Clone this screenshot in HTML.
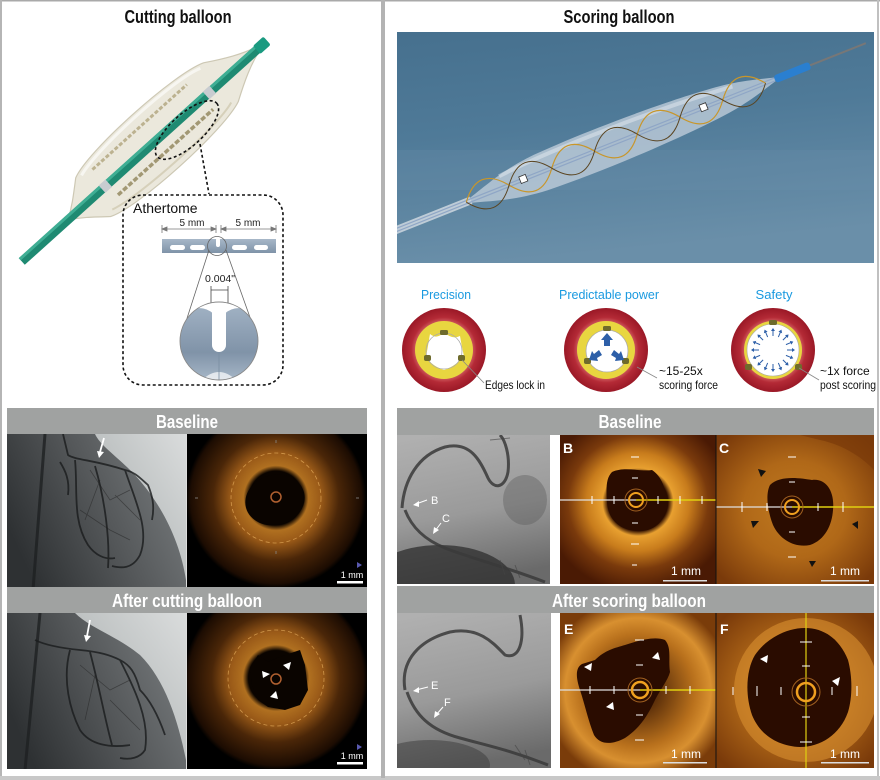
<!DOCTYPE html>
<html><head><meta charset="utf-8"><style>
html,body{margin:0;padding:0;background:#fff;}
svg{display:block;}
text{font-family:"Liberation Sans Narrow","Liberation Sans",sans-serif;}
</style></head><body>
<svg width="880" height="780" viewBox="0 0 880 780" xmlns="http://www.w3.org/2000/svg">
<defs>
  <linearGradient id="photo" x1="0" y1="0" x2="0.2" y2="1">
    <stop offset="0" stop-color="#46708e"/>
    <stop offset="0.45" stop-color="#4f7a98"/>
    <stop offset="1" stop-color="#6a8fa9"/>
  </linearGradient>
  <linearGradient id="angL" x1="0" y1="0.6" x2="1" y2="0.2">
    <stop offset="0" stop-color="#2e3133"/>
    <stop offset="0.5" stop-color="#55585a"/>
    <stop offset="1" stop-color="#7a7e80"/>
  </linearGradient>
  <linearGradient id="lung" x1="0" y1="1" x2="1" y2="0">
    <stop offset="0" stop-color="#9ea3a4"/>
    <stop offset="0.5" stop-color="#c9cdcd"/>
    <stop offset="1" stop-color="#e4e6e6"/>
  </linearGradient>
  <linearGradient id="angR" x1="0.2" y1="0" x2="0.4" y2="1">
    <stop offset="0" stop-color="#b0b0b0"/>
    <stop offset="0.55" stop-color="#9a9a9a"/>
    <stop offset="1" stop-color="#6a6a6a"/>
  </linearGradient>
  <radialGradient id="octL" cx="0.5" cy="0.5" r="0.5">
    <stop offset="0" stop-color="#080300"/>
    <stop offset="0.3" stop-color="#0a0400"/>
    <stop offset="0.36" stop-color="#b07020"/>
    <stop offset="0.5" stop-color="#9a5a18"/>
    <stop offset="0.7" stop-color="#4a2608"/>
    <stop offset="0.95" stop-color="#1c0c02"/>
    <stop offset="1" stop-color="#000"/>
  </radialGradient>
  <radialGradient id="octB" cx="0.5" cy="0.45" r="0.6">
    <stop offset="0" stop-color="#2a0c00"/>
    <stop offset="0.32" stop-color="#2a0c00"/>
    <stop offset="0.38" stop-color="#e8a030"/>
    <stop offset="0.55" stop-color="#c87c1c"/>
    <stop offset="0.75" stop-color="#7a3a0c"/>
    <stop offset="1" stop-color="#4a1a04"/>
  </radialGradient>
  <radialGradient id="octC" cx="0.5" cy="0.5" r="0.65">
    <stop offset="0" stop-color="#c07a20"/>
    <stop offset="0.5" stop-color="#b06818"/>
    <stop offset="1" stop-color="#7a3a0a"/>
  </radialGradient>
  <radialGradient id="octF" cx="0.5" cy="0.5" r="0.6">
    <stop offset="0" stop-color="#2a0c00"/>
    <stop offset="0.6" stop-color="#b8701c"/>
    <stop offset="0.78" stop-color="#d89030"/>
    <stop offset="1" stop-color="#7a3c0a"/>
  </radialGradient>
  <radialGradient id="red" cx="0.5" cy="0.5" r="0.5">
    <stop offset="0.6" stop-color="#e07a78"/>
    <stop offset="0.78" stop-color="#b42a36"/>
    <stop offset="1" stop-color="#9a1826"/>
  </radialGradient>
  <linearGradient id="blade" x1="0" y1="0" x2="0" y2="1">
    <stop offset="0" stop-color="#a7b7c8"/>
    <stop offset="1" stop-color="#7f93a8"/>
  </linearGradient>
  <linearGradient id="lobe" x1="0" y1="0" x2="0" y2="1">
    <stop offset="0" stop-color="#9fb0c2"/>
    <stop offset="0.6" stop-color="#8093a8"/>
    <stop offset="1" stop-color="#a9b9c9"/>
  </linearGradient>
  <clipPath id="mag"><circle cx="219" cy="341" r="39"/></clipPath>
  <clipPath id="cOL1"><rect x="187" y="434" width="180" height="153"/></clipPath>
  <clipPath id="cOL2"><rect x="187" y="613" width="180" height="156"/></clipPath>
  <clipPath id="cB"><rect x="560" y="435" width="156" height="149"/></clipPath>
  <clipPath id="cC"><rect x="716" y="435" width="158" height="149"/></clipPath>
  <clipPath id="cE"><rect x="560" y="613" width="156" height="155"/></clipPath>
  <clipPath id="cF"><rect x="716" y="613" width="158" height="155"/></clipPath>
  <clipPath id="cAL1"><rect x="7" y="434" width="179" height="153"/></clipPath>
  <clipPath id="cAL2"><rect x="7" y="613" width="179" height="156"/></clipPath>
  <clipPath id="cAR1"><rect x="397" y="435" width="153" height="149"/></clipPath>
  <clipPath id="cAR2"><rect x="397" y="613" width="154" height="155"/></clipPath>
  <clipPath id="cPh"><rect x="397" y="32" width="477" height="231"/></clipPath>
</defs>

<!-- frame -->
<rect x="0" y="0" width="880" height="1.5" fill="#a9a9a9"/>
<rect x="0" y="0" width="2" height="780" fill="#b5b5b5"/>
<rect x="877" y="0" width="2" height="780" fill="#c0c0c0"/>
<rect x="0" y="776" width="880" height="4" fill="#c8c8c8"/>
<rect x="381" y="0" width="4" height="778" fill="#b3b3b3"/>

<!-- ===== LEFT TOP ===== -->
<text x="178" y="23" font-size="18" font-weight="bold" text-anchor="middle" textLength="107" lengthAdjust="spacingAndGlyphs" fill="#111">Cutting balloon</text>

<g transform="translate(160,137) rotate(-42)">
  <path d="M -124 0 C -112 -7, -104 -14, -90 -26 C -64 -38, 52 -38, 82 -26 C 102 -14, 116 -7, 130 -3 L 130 3 C 116 7, 102 14, 82 26 C 52 38, -64 38, -90 26 C -104 14, -112 7, -124 0 Z" fill="#ebe8dc" stroke="#cdc8b4" stroke-width="1.2"/>
  <path d="M -84 -24 C -54 -34, 50 -34, 76 -24" fill="none" stroke="#fff" stroke-width="3" opacity="0.6"/>
  <path d="M -84 22 C -54 31, 50 31, 76 22" fill="none" stroke="#d6d0ba" stroke-width="2"/>
  <line x1="-72" y1="-21" x2="55" y2="-21" stroke="#bcb290" stroke-width="3" stroke-dasharray="4 2"/>
  <line x1="-70" y1="15" x2="58" y2="15" stroke="#a29874" stroke-width="3.5" stroke-dasharray="5 2"/>
  <rect x="-186" y="-4.5" width="318" height="9" fill="#1f8a72"/>
  <rect x="-186" y="-4.5" width="318" height="3" fill="#3fae94"/>
  <rect x="130" y="-5.5" width="14" height="11" rx="2" fill="#1a9a80"/>
  <rect x="-78" y="-5" width="9" height="10" fill="#c8ccd0"/>
  <rect x="62" y="-5" width="9" height="10" fill="#c8ccd0"/>
</g>
<ellipse cx="187" cy="130" rx="40" ry="16" transform="rotate(-42 187 130)" fill="none" stroke="#111" stroke-width="1.6" stroke-dasharray="3 2.5"/>
<line x1="200" y1="144" x2="209" y2="194" stroke="#111" stroke-width="1.6" stroke-dasharray="3 2.5"/>
<rect x="123" y="195" width="160" height="190" rx="20" fill="none" stroke="#111" stroke-width="1.6" stroke-dasharray="3 2.5"/>
<text x="133" y="213" font-size="14" fill="#111" font-family="Liberation Sans, sans-serif">Athertome</text>
<g stroke="#777" stroke-width="0.8" fill="#777">
  <line x1="162" y1="229" x2="216" y2="229"/><line x1="162" y1="225" x2="162" y2="233"/><line x1="216" y1="225" x2="216" y2="233"/>
  <line x1="221" y1="229" x2="276" y2="229"/><line x1="221" y1="225" x2="221" y2="233"/><line x1="276" y1="225" x2="276" y2="233"/>
  <polygon points="162,229 167,227 167,231"/><polygon points="216,229 211,227 211,231"/>
  <polygon points="221,229 226,227 226,231"/><polygon points="276,229 271,227 271,231"/>
</g>
<text x="192" y="226" font-size="10" text-anchor="middle" fill="#222" font-family="Liberation Sans, sans-serif">5 mm</text>
<text x="248" y="226" font-size="10" text-anchor="middle" fill="#222" font-family="Liberation Sans, sans-serif">5 mm</text>
<rect x="162" y="239" width="114" height="14" fill="url(#blade)"/>
<g fill="#fff">
  <rect x="170" y="245" width="15" height="5" rx="2.5"/><rect x="190" y="245" width="15" height="5" rx="2.5"/>
  <rect x="232" y="245" width="15" height="5" rx="2.5"/><rect x="254" y="245" width="14" height="5" rx="2.5"/>
  <rect x="216" y="238" width="4" height="9" rx="2"/>
</g>
<circle cx="217" cy="246" r="9.5" fill="none" stroke="#666" stroke-width="0.8"/>
<line x1="209" y1="250" x2="181" y2="337" stroke="#666" stroke-width="0.8"/>
<line x1="226" y1="250" x2="257" y2="337" stroke="#666" stroke-width="0.8"/>
<text x="220" y="282" font-size="10.5" text-anchor="middle" fill="#222" font-family="Liberation Sans, sans-serif">0.004"</text>
<g stroke="#444" stroke-width="0.8"><line x1="211" y1="286" x2="211" y2="303"/><line x1="228" y1="286" x2="228" y2="303"/><line x1="211" y1="290" x2="228" y2="290"/></g>
<circle cx="219" cy="341" r="39" fill="#fff"/>
<g clip-path="url(#mag)">
  <path d="M 180 332 A 19 19 0 0 1 219 324 A 19 19 0 0 1 258 332 L 258 382 L 180 382 Z" fill="url(#lobe)"/>
  <path d="M 200 382 Q 219 362 238 382 Z" fill="#fff" opacity="0.7"/>
  <rect x="212" y="300" width="14" height="52" rx="7" fill="#fff"/>
  <line x1="219" y1="352" x2="219" y2="380" stroke="#7a8ea2" stroke-width="0.8"/>
</g>
<circle cx="219" cy="341" r="39" fill="none" stroke="#888" stroke-width="0.9"/>

<!-- ===== LEFT BOTTOM ===== -->
<rect x="7" y="408" width="360" height="26" fill="#a0a2a1"/>
<text x="187" y="428" font-size="18" font-weight="bold" text-anchor="middle" textLength="62" lengthAdjust="spacingAndGlyphs" fill="#fff">Baseline</text>
<rect x="7" y="587" width="360" height="26" fill="#a0a2a1"/>
<text x="187" y="607" font-size="18" font-weight="bold" text-anchor="middle" textLength="150" lengthAdjust="spacingAndGlyphs" fill="#fff">After cutting balloon</text>

<!-- angio left top -->
<g clip-path="url(#cAL1)">
  <rect x="7" y="434" width="179" height="153" fill="url(#angL)"/>
  <path d="M 95 434 L 186 434 L 186 580 C 180 540, 160 500, 130 470 C 115 455, 100 445, 95 434 Z" fill="url(#lung)" opacity="0.9"/>
  <path d="M 45 434 L 33 590" stroke="#1e2022" stroke-width="3" fill="none" opacity="0.8"/>
  <g fill="none" stroke="#1a1c1d" stroke-width="1.8" opacity="0.8">
    <path d="M 63 434 L 68 455 C 75 460, 95 460, 125 470 C 135 472, 140 478, 148 485 C 152 495, 155 505, 152 520"/>
    <path d="M 75 460 C 78 490, 72 520, 88 545 C 95 555, 105 560, 115 558"/>
    <path d="M 95 466 C 105 500, 110 540, 108 568"/>
    <path d="M 125 470 C 135 500, 150 530, 140 555 C 132 570, 120 568, 112 566"/>
    <path d="M 60 462 C 65 470, 70 480, 68 495"/>
  </g>
  <g fill="none" stroke="#222" stroke-width="0.8" opacity="0.5">
    <path d="M 90 470 L 110 500 L 130 490"/><path d="M 100 480 L 85 520"/><path d="M 115 495 L 140 520"/>
    <path d="M 80 510 L 110 530 L 130 540"/>
  </g>
  <line x1="104" y1="438" x2="100" y2="452" stroke="#fff" stroke-width="1.8"/>
  <polygon points="97,451 104,452 99,458" fill="#fff"/>
</g>
<!-- OCT left top -->
<g clip-path="url(#cOL1)">
  <rect x="187" y="434" width="180" height="153" fill="#000"/>
  <circle cx="276" cy="498" r="90" fill="url(#octL)"/>
  <ellipse cx="275" cy="500" rx="30" ry="25" fill="#0a0400" transform="rotate(-15 275 500)"/>
  <circle cx="276" cy="498" r="45" fill="none" stroke="#e8b060" stroke-width="0.8" stroke-dasharray="4 3" opacity="0.7"/>
  <circle cx="276" cy="497" r="5" fill="none" stroke="#b06030" stroke-width="1.5"/>
  <g stroke="#888" stroke-width="0.8"><line x1="276" y1="440" x2="276" y2="443"/><line x1="276" y1="551" x2="276" y2="554"/><line x1="195" y1="498" x2="198" y2="498"/><line x1="356" y1="498" x2="359" y2="498"/></g>
  <polygon points="357,562 362,565 357,568" fill="#5a5ab0"/>
  <text x="352" y="578" font-size="9" text-anchor="middle" fill="#fff" font-family="Liberation Sans, sans-serif">1 mm</text>
  <rect x="337" y="581" width="26" height="2.5" fill="#fff"/>
</g>
<!-- angio left bottom -->
<g clip-path="url(#cAL2)">
  <rect x="7" y="613" width="179" height="156" fill="url(#angL)"/>
  <path d="M 75 613 L 186 613 L 186 760 C 178 720, 165 680, 140 655 C 115 635, 90 628, 75 613 Z" fill="url(#lung)" opacity="0.9"/>
  <path d="M 40 613 L 25 770" stroke="#1e2022" stroke-width="3" fill="none" opacity="0.8"/>
  <g fill="none" stroke="#1a1c1d" stroke-width="1.8" opacity="0.8">
    <path d="M 35 640 C 45 645, 60 648, 80 650 C 100 652, 110 655, 120 660 C 130 665, 135 672, 140 690 C 150 700, 158 715, 165 735"/>
    <path d="M 70 650 C 62 680, 70 710, 80 730 C 90 745, 110 748, 130 745"/>
    <path d="M 90 652 C 100 690, 105 720, 112 745"/>
    <path d="M 120 660 C 135 690, 150 720, 145 750 C 140 758, 130 760, 120 758"/>
  </g>
  <g fill="none" stroke="#222" stroke-width="0.8" opacity="0.5">
    <path d="M 80 665 L 110 690 L 130 680"/><path d="M 95 675 L 85 720"/><path d="M 110 700 L 140 730"/>
  </g>
  <line x1="90" y1="620" x2="87" y2="636" stroke="#fff" stroke-width="1.8"/>
  <polygon points="84,635 91,636 86,642" fill="#fff"/>
</g>
<!-- OCT left bottom -->
<g clip-path="url(#cOL2)">
  <rect x="187" y="613" width="180" height="156" fill="#000"/>
  <circle cx="276" cy="678" r="92" fill="url(#octL)"/>
  <path d="M 258 655 L 268 662 L 285 655 L 300 650 L 305 665 L 308 690 L 300 705 L 285 710 L 268 707 L 258 700 L 252 685 L 250 668 Z" fill="#0a0400"/>
  <circle cx="276" cy="678" r="48" fill="none" stroke="#e8b060" stroke-width="0.8" stroke-dasharray="4 3" opacity="0.7"/>
  <circle cx="276" cy="679" r="5" fill="none" stroke="#b06030" stroke-width="1.5"/>
  <polygon points="283,665 291,662 289,670" fill="#fff"/>
  <polygon points="262,671 270,674 263,678" fill="#fff"/>
  <polygon points="270,697 276,691 278,699" fill="#fff"/>
  <polygon points="357,744 362,747 357,750" fill="#5a5ab0"/>
  <text x="352" y="759" font-size="9" text-anchor="middle" fill="#fff" font-family="Liberation Sans, sans-serif">1 mm</text>
  <rect x="337" y="762" width="26" height="2.5" fill="#fff"/>
</g>
<rect x="186" y="434" width="1" height="153" fill="#ddd"/>
<rect x="186" y="613" width="1" height="156" fill="#ddd"/>

<!-- ===== RIGHT TOP ===== -->
<text x="619" y="23" font-size="18" font-weight="bold" text-anchor="middle" textLength="111" lengthAdjust="spacingAndGlyphs" fill="#111">Scoring balloon</text>
<g clip-path="url(#cPh)">
  <rect x="397" y="32" width="477" height="231" fill="url(#photo)"/>
  <rect x="397" y="150" width="477" height="40" fill="#6a90aa" opacity="0.25"/>
  <g transform="translate(615,143) rotate(-21.7)">
    <rect x="-250" y="-4" width="95" height="8" fill="#cfd8e0" opacity="0.85"/>
    <path d="M -165 0 C -140 -6, -120 -16, -80 -19 C -20 -22, 60 -20, 110 -15 C 140 -12, 160 -5, 172 -2 L 172 2 C 160 5, 140 12, 110 15 C 60 20, -20 22, -80 19 C -120 16, -140 6, -165 0 Z" fill="#c6d2dd" opacity="0.75"/>
    <path d="M -120 -12 C -60 -18, 60 -16, 130 -9" fill="none" stroke="#e4eaf0" stroke-width="4" opacity="0.5"/>
    <line x1="-250" y1="-1.5" x2="172" y2="-1.5" stroke="#8fa6c6" stroke-width="1.2"/>
    <line x1="-250" y1="1.5" x2="172" y2="1.5" stroke="#8fa6c6" stroke-width="1.2"/>
    <path d="M -160 0 q 23 -30 46 0 t 46 0 t 46 0 t 46 0 t 46 0 t 46 0 t 46 0" fill="none" stroke="#c8962a" stroke-width="1.2"/>
    <path d="M -160 0 q 23 30 46 0 t 46 0 t 46 0 t 46 0 t 46 0 t 46 0 t 46 0" fill="none" stroke="#5a4420" stroke-width="1"/>
    <rect x="-102" y="-4" width="7" height="7" fill="#fff" stroke="#333" stroke-width="0.8"/>
    <rect x="92" y="-4" width="7" height="7" fill="#fff" stroke="#333" stroke-width="0.8"/>
    <rect x="172" y="-4" width="38" height="8" rx="3" fill="#2a7fd0"/>
    <line x1="210" y1="0" x2="270" y2="0" stroke="#777" stroke-width="2"/>
  </g>
</g>

<!-- circles row -->
<text x="446" y="299" font-size="12.5" text-anchor="middle" fill="#1a9ae0" font-family="Liberation Sans, sans-serif" textLength="50" lengthAdjust="spacingAndGlyphs">Precision</text>
<text x="609" y="299" font-size="12.5" text-anchor="middle" fill="#1a9ae0" font-family="Liberation Sans, sans-serif" textLength="100" lengthAdjust="spacingAndGlyphs">Predictable power</text>
<text x="774" y="299" font-size="12.5" text-anchor="middle" fill="#1a9ae0" font-family="Liberation Sans, sans-serif" textLength="37" lengthAdjust="spacingAndGlyphs">Safety</text>

<!-- Precision -->
<circle cx="444" cy="350" r="42" fill="url(#red)"/>
<circle cx="444" cy="350" r="29" fill="#e8d640"/>
<path d="M 430 334 Q 437 340 444 332 Q 452 340 460 336 Q 462 348 464 356 Q 456 366 444 370 Q 432 366 426 357 Q 428 346 430 334 Z" fill="#fff"/>
<circle cx="444" cy="351" r="18" fill="none" stroke="#aaa" stroke-width="0.8"/>
<g fill="#6e6b2c"><rect x="440" y="330" width="8" height="5" rx="1.5"/><rect x="424" y="355" width="7" height="6" rx="2"/><rect x="458" y="355" width="7" height="6" rx="2"/></g>
<line x1="462" y1="360" x2="484" y2="383" stroke="#888" stroke-width="0.8"/>
<text x="485" y="389" font-size="12" fill="#111" textLength="60" lengthAdjust="spacingAndGlyphs">Edges lock in</text>

<!-- Predictable power -->
<circle cx="606" cy="350" r="42" fill="url(#red)"/>
<circle cx="606" cy="350" r="29" fill="#e8d640"/>
<circle cx="607" cy="351" r="21" fill="#fff" stroke="#aaa" stroke-width="0.8"/>
<g fill="#6e6b2c"><rect x="603" y="326" width="8" height="5" rx="1.5"/><rect x="584" y="358" width="7" height="6" rx="2"/><rect x="622" y="358" width="7" height="6" rx="2"/></g>
<g fill="#2d5fa8">
  <polygon points="607,333 613,340 610,340 610,346 604,346 604,340 601,340"/>
  <polygon points="589,360 592,351 594,354 599,350 602,355 597,358 598,361"/>
  <polygon points="624,360 621,351 619,354 614,350 611,355 616,358 615,361"/>
</g>
<line x1="637" y1="367" x2="657" y2="378" stroke="#888" stroke-width="0.8"/>
<text x="659" y="375" font-size="12" fill="#111">~15-25x</text>
<text x="659" y="389" font-size="12" fill="#111" textLength="59" lengthAdjust="spacingAndGlyphs">scoring force</text>

<!-- Safety -->
<circle cx="773" cy="350" r="42" fill="url(#red)"/>
<circle cx="773" cy="350" r="29" fill="#e8d640"/>
<circle cx="773" cy="350" r="26" fill="#fff" stroke="#aaa" stroke-width="0.6"/>
<g fill="#6e6b2c"><rect x="769" y="320" width="8" height="5" rx="1.5"/><rect x="745" y="364" width="7" height="6" rx="2"/><rect x="795" y="364" width="7" height="6" rx="2"/></g>
<g stroke="#2d5fa8" stroke-width="1" fill="#2d5fa8">
  <g><line x1="773" y1="336" x2="773" y2="330"/><polygon points="771,331 775,331 773,328" stroke="none"/></g>
  <g transform="rotate(22.5 773 350)"><line x1="773" y1="336" x2="773" y2="330"/><polygon points="771,331 775,331 773,328" stroke="none"/></g>
  <g transform="rotate(45 773 350)"><line x1="773" y1="336" x2="773" y2="330"/><polygon points="771,331 775,331 773,328" stroke="none"/></g>
  <g transform="rotate(67.5 773 350)"><line x1="773" y1="336" x2="773" y2="330"/><polygon points="771,331 775,331 773,328" stroke="none"/></g>
  <g transform="rotate(90 773 350)"><line x1="773" y1="336" x2="773" y2="330"/><polygon points="771,331 775,331 773,328" stroke="none"/></g>
  <g transform="rotate(112.5 773 350)"><line x1="773" y1="336" x2="773" y2="330"/><polygon points="771,331 775,331 773,328" stroke="none"/></g>
  <g transform="rotate(135 773 350)"><line x1="773" y1="336" x2="773" y2="330"/><polygon points="771,331 775,331 773,328" stroke="none"/></g>
  <g transform="rotate(157.5 773 350)"><line x1="773" y1="336" x2="773" y2="330"/><polygon points="771,331 775,331 773,328" stroke="none"/></g>
  <g transform="rotate(180 773 350)"><line x1="773" y1="336" x2="773" y2="330"/><polygon points="771,331 775,331 773,328" stroke="none"/></g>
  <g transform="rotate(202.5 773 350)"><line x1="773" y1="336" x2="773" y2="330"/><polygon points="771,331 775,331 773,328" stroke="none"/></g>
  <g transform="rotate(225 773 350)"><line x1="773" y1="336" x2="773" y2="330"/><polygon points="771,331 775,331 773,328" stroke="none"/></g>
  <g transform="rotate(247.5 773 350)"><line x1="773" y1="336" x2="773" y2="330"/><polygon points="771,331 775,331 773,328" stroke="none"/></g>
  <g transform="rotate(270 773 350)"><line x1="773" y1="336" x2="773" y2="330"/><polygon points="771,331 775,331 773,328" stroke="none"/></g>
  <g transform="rotate(292.5 773 350)"><line x1="773" y1="336" x2="773" y2="330"/><polygon points="771,331 775,331 773,328" stroke="none"/></g>
  <g transform="rotate(315 773 350)"><line x1="773" y1="336" x2="773" y2="330"/><polygon points="771,331 775,331 773,328" stroke="none"/></g>
  <g transform="rotate(337.5 773 350)"><line x1="773" y1="336" x2="773" y2="330"/><polygon points="771,331 775,331 773,328" stroke="none"/></g>
</g>
<line x1="799" y1="368" x2="819" y2="380" stroke="#888" stroke-width="0.8"/>
<text x="820" y="375" font-size="12" fill="#111">~1x force</text>
<text x="820" y="389" font-size="12" fill="#111" textLength="56" lengthAdjust="spacingAndGlyphs">post scoring</text>

<!-- ===== RIGHT BOTTOM ===== -->
<rect x="397" y="408" width="477" height="27" fill="#a0a2a1"/>
<text x="630" y="428" font-size="18" font-weight="bold" text-anchor="middle" textLength="63" lengthAdjust="spacingAndGlyphs" fill="#fff">Baseline</text>
<rect x="397" y="586" width="477" height="27" fill="#a0a2a1"/>
<text x="629" y="607" font-size="18" font-weight="bold" text-anchor="middle" textLength="154" lengthAdjust="spacingAndGlyphs" fill="#fff">After scoring balloon</text>

<!-- angio right top -->
<g clip-path="url(#cAR1)">
  <rect x="397" y="435" width="153" height="149" fill="url(#angR)"/>
  <ellipse cx="440" cy="585" rx="75" ry="40" fill="#2e2e2e" opacity="0.75"/>
  <ellipse cx="525" cy="500" rx="22" ry="25" fill="#5a5a5a" opacity="0.4"/>
  <g fill="none" stroke="#3a3a3a" stroke-width="3" opacity="0.85">
    <path d="M 402 508 C 404 480, 418 455, 445 447 C 470 441, 480 460, 488 478 C 494 490, 505 488, 508 472 C 510 455, 505 440, 500 435"/>
    <path d="M 405 510 C 412 528, 425 540, 445 548 C 470 558, 500 565, 545 582"/>
  </g>
  <g fill="none" stroke="#444" stroke-width="1" opacity="0.6"><path d="M 500 560 L 505 575"/><path d="M 515 565 L 520 578"/><path d="M 490 440 L 510 438"/></g>
  <g fill="#fff" stroke="#fff" stroke-width="1">
    <line x1="427" y1="500" x2="416" y2="504"/><polygon points="413,505 419,501 419,507" stroke="none"/>
    <line x1="441" y1="523" x2="435" y2="531"/><polygon points="433,534 434,527 439,530" stroke="none"/>
  </g>
  <text x="431" y="504" font-size="11" fill="#fff" font-family="Liberation Sans, sans-serif">B</text>
  <text x="442" y="522" font-size="11" fill="#fff" font-family="Liberation Sans, sans-serif">C</text>
</g>
<!-- angio right bottom -->
<g clip-path="url(#cAR2)">
  <rect x="397" y="613" width="154" height="155" fill="url(#angR)"/>
  <ellipse cx="430" cy="765" rx="60" ry="25" fill="#3a3a3a" opacity="0.5"/>
  <g fill="none" stroke="#3a3a3a" stroke-width="3" opacity="0.85">
    <path d="M 405 690 C 400 660, 420 640, 450 632 C 480 626, 495 645, 505 655 C 520 660, 525 640, 520 615"/>
    <path d="M 407 692 C 415 715, 430 730, 460 738 C 485 745, 510 750, 548 765"/>
  </g>
  <g fill="none" stroke="#444" stroke-width="1" opacity="0.6"><path d="M 515 745 L 525 760"/><path d="M 525 750 L 530 765"/></g>
  <g fill="#fff" stroke="#fff" stroke-width="1">
    <line x1="428" y1="687" x2="416" y2="690"/><polygon points="413,691 419,687 419,693" stroke="none"/>
    <line x1="443" y1="707" x2="436" y2="715"/><polygon points="434,718 435,711 440,714" stroke="none"/>
  </g>
  <text x="431" y="689" font-size="11" fill="#fff" font-family="Liberation Sans, sans-serif">E</text>
  <text x="444" y="706" font-size="11" fill="#fff" font-family="Liberation Sans, sans-serif">F</text>
</g>

<!-- OCT B -->
<g clip-path="url(#cB)">
  <rect x="560" y="435" width="156" height="149" fill="url(#octB)"/>
  <path d="M 612 472 C 625 466, 640 472, 652 470 C 664 478, 668 495, 665 512 C 662 525, 650 532, 637 531 C 620 530, 608 520, 607 502 C 606 488, 606 478, 612 472 Z" fill="#2a0c00"/>
  <line x1="560" y1="500" x2="636" y2="500" stroke="#e0e0e0" stroke-width="1.2"/>
  <line x1="636" y1="500" x2="716" y2="500" stroke="#e0d010" stroke-width="1.5"/>
  <g stroke="#fff" stroke-width="1"><line x1="592" y1="496" x2="592" y2="504"/><line x1="614" y1="496" x2="614" y2="504"/><line x1="658" y1="496" x2="658" y2="504"/><line x1="680" y1="496" x2="680" y2="504"/><line x1="702" y1="496" x2="702" y2="504"/>
  <line x1="631" y1="457" x2="639" y2="457"/><line x1="632" y1="478" x2="638" y2="478"/><line x1="632" y1="523" x2="638" y2="523"/><line x1="631" y1="544" x2="639" y2="544"/><line x1="632" y1="565" x2="637" y2="565"/></g>
  <circle cx="636" cy="500" r="7" fill="none" stroke="#f0a020" stroke-width="2"/>
  <circle cx="636" cy="500" r="11" fill="none" stroke="#a06020" stroke-width="1"/>
  <text x="563" y="453" font-size="14" font-weight="bold" fill="#fff" font-family="Liberation Sans, sans-serif">B</text>
  <text x="686" y="575" font-size="12" fill="#fff" text-anchor="middle" font-family="Liberation Sans, sans-serif">1 mm</text>
  <rect x="663" y="580" width="44" height="1.5" fill="#ddd"/>
</g>
<!-- OCT C -->
<g clip-path="url(#cC)">
  <rect x="716" y="435" width="158" height="149" fill="url(#octC)"/>
  <path d="M 820 440 C 845 445, 865 460, 874 470 L 874 435 L 800 435 Z" fill="#7a3a0a" opacity="0.7"/>
  <path d="M 770 485 C 780 475, 800 478, 812 480 C 825 478, 835 490, 833 510 C 832 525, 825 540, 810 545 C 795 548, 780 540, 773 525 C 768 512, 765 495, 770 485 Z" fill="#2a0c00"/>
  <line x1="716" y1="507" x2="792" y2="507" stroke="#e0e0e0" stroke-width="1.2"/>
  <line x1="792" y1="507" x2="874" y2="507" stroke="#e0d010" stroke-width="1.5"/>
  <g stroke="#fff" stroke-width="1"><line x1="742" y1="502" x2="742" y2="512"/><line x1="767" y1="503" x2="767" y2="511"/><line x1="818" y1="503" x2="818" y2="511"/><line x1="843" y1="502" x2="843" y2="512"/>
  <line x1="788" y1="457" x2="796" y2="457"/><line x1="789" y1="482" x2="795" y2="482"/><line x1="789" y1="532" x2="795" y2="532"/><line x1="788" y1="557" x2="796" y2="557"/></g>
  <circle cx="792" cy="507" r="7" fill="none" stroke="#f0a020" stroke-width="2"/>
  <circle cx="792" cy="507" r="11" fill="none" stroke="#a06020" stroke-width="1"/>
  <g fill="#111"><polygon points="758,469 766,471 761,477"/><polygon points="751,521 759,521 753,528"/><polygon points="858,521 858,529 852,524"/><polygon points="809,561 816,561 812,567"/></g>
  <text x="719" y="453" font-size="14" font-weight="bold" fill="#fff" font-family="Liberation Sans, sans-serif">C</text>
  <text x="845" y="575" font-size="12" fill="#fff" text-anchor="middle" font-family="Liberation Sans, sans-serif">1 mm</text>
  <rect x="821" y="580" width="48" height="1.5" fill="#ddd"/>
</g>
<!-- OCT E -->
<g clip-path="url(#cE)">
  <rect x="560" y="613" width="156" height="155" fill="url(#octF)"/>
  <path d="M 595 660 C 605 650, 615 648, 625 645 C 640 640, 655 636, 665 640 C 672 648, 668 660, 670 672 C 668 680, 660 690, 655 700 C 648 715, 640 728, 625 738 C 612 745, 600 745, 594 735 C 588 720, 585 705, 580 690 C 576 678, 575 668, 582 664 Z" fill="#2a0c00"/>
  <line x1="560" y1="690" x2="640" y2="690" stroke="#e0e0e0" stroke-width="1.2"/>
  <line x1="640" y1="690" x2="716" y2="690" stroke="#e0d010" stroke-width="1.5"/>
  <g stroke="#fff" stroke-width="1"><line x1="590" y1="686" x2="590" y2="694"/><line x1="614" y1="686" x2="614" y2="694"/><line x1="666" y1="686" x2="666" y2="694"/><line x1="690" y1="686" x2="690" y2="694"/>
  <line x1="635" y1="640" x2="644" y2="640"/><line x1="636" y1="665" x2="643" y2="665"/><line x1="636" y1="715" x2="643" y2="715"/><line x1="635" y1="740" x2="644" y2="740"/></g>
  <circle cx="640" cy="690" r="8" fill="none" stroke="#f0a020" stroke-width="2.5"/>
  <circle cx="640" cy="690" r="12" fill="none" stroke="#a06020" stroke-width="1"/>
  <g fill="#fff"><polygon points="584,667 592,663 591,671"/><polygon points="652,658 658,652 660,660"/><polygon points="606,707 613,702 614,710"/></g>
  <text x="564" y="634" font-size="14" font-weight="bold" fill="#fff" font-family="Liberation Sans, sans-serif">E</text>
  <text x="686" y="758" font-size="12" fill="#fff" text-anchor="middle" font-family="Liberation Sans, sans-serif">1 mm</text>
  <rect x="663" y="762" width="44" height="1.5" fill="#ddd"/>
</g>
<!-- OCT F -->
<g clip-path="url(#cF)">
  <rect x="716" y="613" width="158" height="155" fill="url(#octC)"/>
  <circle cx="806" cy="690" r="72" fill="#d89030" opacity="0.6"/>
  <path d="M 755 655 C 765 640, 785 628, 805 628 C 825 628, 840 640, 848 660 C 852 675, 853 695, 848 712 C 840 735, 820 747, 800 747 C 778 746, 760 735, 752 715 C 745 695, 746 670, 755 655 Z" fill="#2a0c00"/>
  <line x1="806" y1="613" x2="806" y2="768" stroke="#e0d010" stroke-width="1.2"/>
  <g stroke="#fff" stroke-width="1"><line x1="800" y1="642" x2="812" y2="642"/><line x1="802" y1="666" x2="810" y2="666"/><line x1="802" y1="717" x2="810" y2="717"/><line x1="800" y1="742" x2="812" y2="742"/>
  <line x1="733" y1="687" x2="733" y2="695"/><line x1="757" y1="686" x2="757" y2="696"/><line x1="781" y1="687" x2="781" y2="695"/><line x1="832" y1="687" x2="832" y2="695"/><line x1="857" y1="686" x2="857" y2="696"/></g>
  <circle cx="806" cy="692" r="9" fill="none" stroke="#f0a020" stroke-width="2.5"/>
  <circle cx="806" cy="692" r="14" fill="none" stroke="#a06020" stroke-width="1"/>
  <g fill="#fff"><polygon points="760,659 768,655 767,663"/><polygon points="832,681 840,677 838,686"/></g>
  <text x="720" y="634" font-size="14" font-weight="bold" fill="#fff" font-family="Liberation Sans, sans-serif">F</text>
  <text x="845" y="758" font-size="12" fill="#fff" text-anchor="middle" font-family="Liberation Sans, sans-serif">1 mm</text>
  <rect x="821" y="762" width="48" height="1.5" fill="#ddd"/>
</g>
<rect x="715.5" y="435" width="1" height="149" fill="#111"/>
<rect x="715.5" y="613" width="1" height="155" fill="#111"/>
</svg>
</body></html>
